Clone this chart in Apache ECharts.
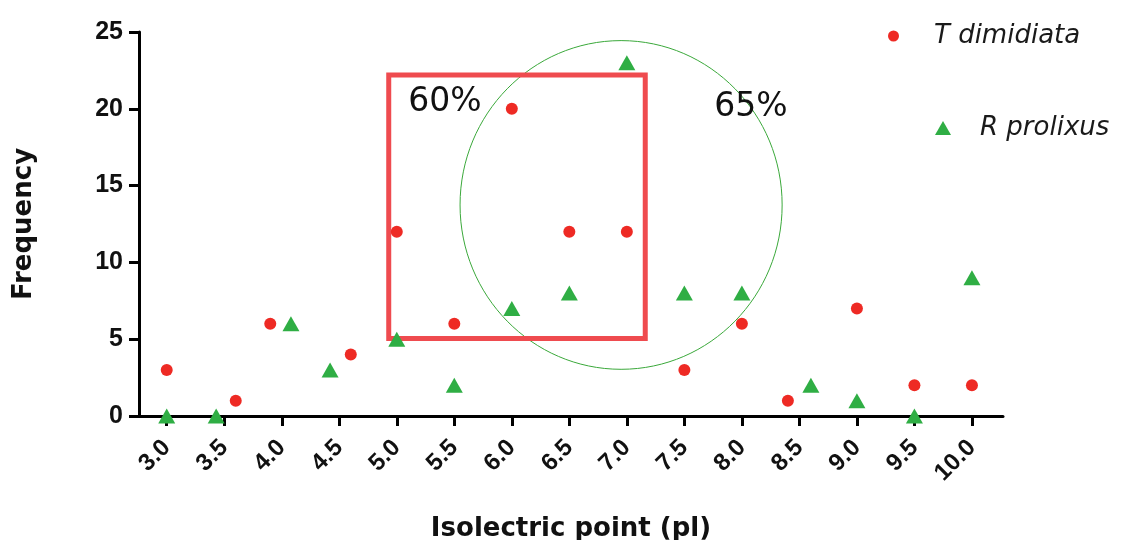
<!DOCTYPE html>
<html>
<head>
<meta charset="utf-8">
<script src="https://cdn.jsdelivr.net/npm/echarts@6/dist/echarts.min.js"></script>
<style>
html,body{margin:0;padding:0;background:#fff;}
#chart{width:1143px;height:540px;}
</style>
</head>
<body>
<div id="chart"></div>
<script>
// Data
const xTicks = [3.0, 3.5, 4.0, 4.5, 5.0, 5.5, 6.0, 6.5, 7.0, 7.5, 8.0, 8.5, 9.0, 9.5, 10.0];
const tDimidiataX = [3.0, 3.6, 3.9, 4.6, 5.0, 5.5, 6.0, 6.5, 7.0, 7.5, 8.0, 8.4, 9.0, 9.5, 10.0];
const tDimidiataY = [3, 1, 6, 4, 12, 6, 20, 12, 12, 3, 6, 1, 7, 2, 2];
const rProlixusX = [3.0, 3.43, 4.08, 4.42, 5.0, 5.5, 6.0, 6.5, 7.0, 7.5, 8.0, 8.6, 9.0, 9.5, 10.0];
const rProlixusY = [0, 0, 6, 3, 5, 2, 7, 8, 23, 8, 8, 2, 1, 0, 9];
// Annotations in data space
const boxLabel = '60%';
const boxRange = [4.93, 22.2, 7.16, 5.05];      // x1, y1, x2, y2
const boxLabelAt = [5.1, 20.4];
const ringLabel = '65%';
const ringCenter = [6.95, 13.74];
const ringRadius = [1.4, 10.7];                // x units, y units
const ringLabelAt = [7.76, 20.1];

const zip = (xs, ys) => xs.map((x, i) => [x, ys[i]]);

const chart = echarts.init(document.getElementById('chart'));
const FONT = 'DejaVu Sans';
const TICKFONT = 'Liberation Sans';

chart.setOption({
  animation: false,
  textStyle: { fontFamily: FONT },
  grid: { left: 139, right: 140, top: 32, bottom: 124, outerBoundsMode: 'none', containLabel: false },
  legend: [
    {
      data: ['T dimidiata'], left: 883, top: 18, orient: 'vertical',
      itemWidth: 11, itemHeight: 11,
      textStyle: { fontSize: 26, fontStyle: 'italic', color: '#1a1a1a', fontFamily: FONT, padding: [0, 0, 0, 30] }
    },
    {
      data: ['R prolixus'], left: 930, top: 110, orient: 'vertical',
      itemWidth: 16, itemHeight: 14,
      textStyle: { fontSize: 26, fontStyle: 'italic', color: '#1a1a1a', fontFamily: FONT, padding: [0, 0, 0, 24] }
    }
  ],
  xAxis: {
    type: 'value', min: 2.759, max: 10.27,
    name: 'Isolectric point (pl)', nameLocation: 'middle', nameGap: 100,
    nameTextStyle: { fontSize: 26, fontWeight: 'bold', color: '#111', fontFamily: FONT },
    splitLine: { show: false },
    axisLine: { onZero: false, lineStyle: { color: '#000', width: 3 } },
    axisTick: { customValues: xTicks, length: 10, lineStyle: { color: '#000', width: 3 } },
    axisLabel: {
      customValues: xTicks, rotate: 45, margin: 28,
      fontSize: 24, fontWeight: 'bold', color: '#111', fontFamily: TICKFONT,
      formatter: v => Number(v).toFixed(1)
    }
  },
  yAxis: {
    type: 'value', min: 0, max: 25, interval: 5,
    name: 'Frequency', nameLocation: 'middle', nameGap: 102, nameRotate: 90,
    nameTextStyle: { fontSize: 26, fontWeight: 'bold', color: '#111', fontFamily: FONT },
    splitLine: { show: false },
    axisLine: { show: true, lineStyle: { color: '#000', width: 3 } },
    axisTick: { show: true, length: 10, lineStyle: { color: '#000', width: 3 } },
    axisLabel: { fontSize: 25, fontWeight: 'bold', color: '#111', margin: 16, fontFamily: TICKFONT }
  },
  series: [
    {
      name: 'annotations', type: 'custom', silent: true, z: 1,
      data: [[0]],
      renderItem: function (params, api) {
        const p1 = api.coord([boxRange[0], boxRange[1]]);
        const p2 = api.coord([boxRange[2], boxRange[3]]);
        const c = api.coord(ringCenter);
        const r = api.size(ringRadius);
        const t1 = api.coord(boxLabelAt);
        const t2 = api.coord(ringLabelAt);
        return {
          type: 'group',
          children: [
            {
              type: 'ellipse',
              shape: { cx: c[0], cy: c[1], rx: r[0], ry: r[1] },
              style: { fill: 'none', stroke: '#3aa83a', lineWidth: 1 }
            },
            {
              type: 'rect',
              shape: { x: p1[0], y: p1[1], width: p2[0] - p1[0], height: p2[1] - p1[1] },
              style: { fill: 'none', stroke: '#ef4b4f', lineWidth: 5 }
            },
            {
              type: 'text',
              style: { x: t1[0], y: t1[1], text: boxLabel, fill: '#111', fontSize: 33, fontFamily: FONT, verticalAlign: 'middle', align: 'left' }
            },
            {
              type: 'text',
              style: { x: t2[0], y: t2[1], text: ringLabel, fill: '#111', fontSize: 33, fontFamily: FONT, verticalAlign: 'middle', align: 'left' }
            }
          ]
        };
      }
    },
    {
      name: 'T dimidiata', type: 'scatter', symbol: 'circle', symbolSize: 12, z: 3,
      itemStyle: { color: '#ee2a24', opacity: 1 },
      data: zip(tDimidiataX, tDimidiataY)
    },
    {
      name: 'R prolixus', type: 'scatter', symbol: 'triangle', symbolSize: [17, 15], z: 3,
      itemStyle: { color: '#2fae44', opacity: 1 },
      data: zip(rProlixusX, rProlixusY)
    }
  ]
});
</script>
</body>
</html>
